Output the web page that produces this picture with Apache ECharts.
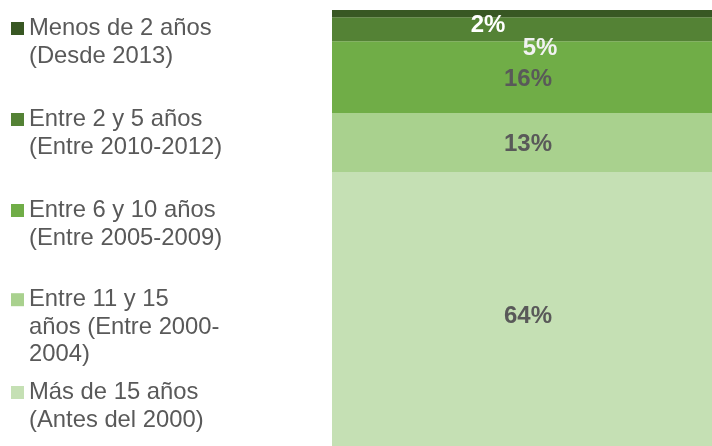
<!DOCTYPE html>
<html>
<head>
<meta charset="utf-8">
<script src="https://cdn.jsdelivr.net/npm/echarts@6/dist/echarts.min.js"></script>
<style>
html,body{margin:0;padding:0;background:#fff;}
#chart{width:712px;height:446px;}
</style>
</head>
<body>
<div id="chart"></div>
<script>
// Categories (bottom to top of the stack)
var seriesNames = [
  "Más de 15 años (Antes del 2000)",
  "Entre 11 y 15 años (Entre 2000-2004)",
  "Entre 6 y 10 años (Entre 2005-2009)",
  "Entre 2 y 5 años (Entre 2010-2012)",
  "Menos de 2 años (Desde 2013)"
];
// Legend text as displayed (line breaks)
var legendTexts = [
  "Más de 15 años\n(Antes del 2000)",
  "Entre 11 y 15\naños (Entre 2000-\n2004)",
  "Entre 6 y 10 años\n(Entre 2005-2009)",
  "Entre 2 y 5 años\n(Entre 2010-2012)",
  "Menos de 2 años\n(Desde 2013)"
];
// Shares (%)
var values = [63.7, 13.2, 16.1, 5.4, 1.6];
// Data labels as printed
var valueLabels = ["64%", "13%", "16%", "5%", "2%"];

var colors = ["#c5e0b4", "#a9d18e", "#70ad47", "#548235", "#385723"];
var labelColors = ["#595959", "#595959", "#595959", "#f2f2f2", "#ffffff"];
var labelOffsets = [[0, 2], [0, 2], [0, 2], [12, 19], [-40, 12]];
var legendIconCenters = [392.5, 299.7, 210.5, 119.5, 28.5];

var FONT = "'Liberation Sans', Arial, sans-serif";
var LH = 27.5;

var series = seriesNames.map(function (name, i) {
  return {
    name: name,
    type: "bar",
    stack: "total",
    barWidth: "100%",
    barCategoryGap: 0,
    itemStyle: { color: colors[i] },
    label: {
      show: true,
      position: "inside",
      offset: labelOffsets[i],
      formatter: function () { return valueLabels[i]; },
      color: labelColors[i],
      fontFamily: FONT,
      fontWeight: "bold",
      fontSize: 24
    },
    emphasis: { disabled: true },
    data: [values[i]]
  };
});

var legends = seriesNames.map(function (name, i) {
  var lines = legendTexts[i].split("\n");
  var n = lines.length;
  // blank lines above so the first text line sits level with the square
  var shown = new Array(n).join("\n") + legendTexts[i];
  var top = legendIconCenters[i] - (2 * n - 1) * LH / 2;
  return {
    data: [name],
    left: 11,
    top: top,
    orient: "vertical",
    padding: 0,
    itemWidth: 13,
    itemHeight: 13,
    icon: "rect",
    selectedMode: false,
    formatter: function () { return shown; },
    textStyle: {
      fontFamily: FONT,
      fontSize: 23.8,
      lineHeight: LH,
      color: "#595959"
    }
  };
});

var chart = echarts.init(document.getElementById("chart"), null, { renderer: "canvas" });
chart.setOption({
  animation: false,
  backgroundColor: "#ffffff",
  legend: legends,
  grid: { left: 332, top: 10, width: 392, height: 446, containLabel: false, outerBoundsMode: "none" },
  xAxis: { type: "category", data: [""], show: false },
  yAxis: { type: "value", min: 0, max: 100, show: false },
  series: series
});
</script>
</body>
</html>
